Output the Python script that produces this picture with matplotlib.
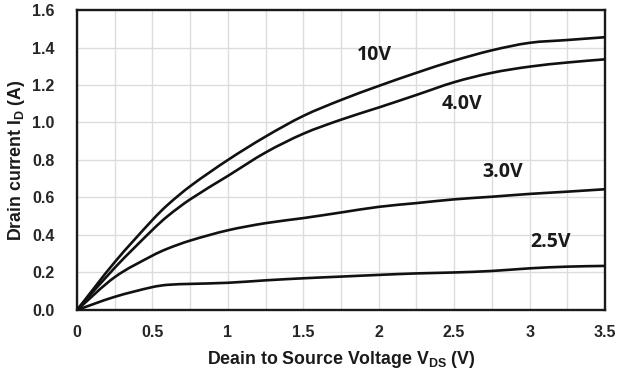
import numpy as np
import matplotlib.pyplot as plt
from matplotlib.path import Path
from matplotlib.patches import PathPatch
from matplotlib.ticker import MultipleLocator

# drain voltage points (V)
vds = [0, 0.25, 0.5, 0.6, 0.75, 1.0, 1.25, 1.5, 1.75, 2.0, 2.25, 2.5, 2.75, 3.0, 3.25, 3.5]

# drain current (A) for each gate voltage
id_10v = [0, 0.255, 0.48, 0.56, 0.66, 0.80, 0.925, 1.035, 1.12, 1.195, 1.265, 1.33, 1.385, 1.425, 1.44, 1.455]
id_4v = [0, 0.225, 0.427, 0.5, 0.59, 0.715, 0.84, 0.94, 1.015, 1.08, 1.147, 1.215, 1.265, 1.298, 1.32, 1.337]
id_3v = [0, 0.175, 0.29, 0.327, 0.37, 0.425, 0.463, 0.49, 0.52, 0.55, 0.57, 0.59, 0.604, 0.619, 0.631, 0.644]
id_25v = [0, 0.07, 0.122, 0.134, 0.139, 0.145, 0.158, 0.169, 0.178, 0.187, 0.195, 0.2, 0.208, 0.222, 0.231, 0.235]

curve_labels = ['10V', '4.0V', '3.0V', '2.5V']
label_pos = [(1.97, 1.36), (2.55, 1.10), (2.82, 0.735), (3.14, 0.365)]


def smooth_path(x, y):
    """Bezier path through the points (cubic hermite in x), like a smoothed spreadsheet line"""
    x = np.asarray(x, float)
    y = np.asarray(y, float)
    n = len(x)
    m = np.zeros(n)  # slope at each point
    m[0] = (y[1] - y[0]) / (x[1] - x[0])
    m[-1] = (y[-1] - y[-2]) / (x[-1] - x[-2])
    m[1:-1] = (y[2:] - y[:-2]) / (x[2:] - x[:-2])
    verts = [(x[0], y[0])]
    codes = [Path.MOVETO]
    for i in range(n - 1):
        h = x[i + 1] - x[i]
        verts += [(x[i] + h / 3, y[i] + m[i] * h / 3),
                  (x[i + 1] - h / 3, y[i + 1] - m[i + 1] * h / 3),
                  (x[i + 1], y[i + 1])]
        codes += [Path.CURVE4] * 3
    return Path(verts, codes)


plt.rcParams['font.family'] = ['Liberation Sans', 'DejaVu Sans']

fig = plt.figure(figsize=(6.18, 3.78), dpi=100)
ax = fig.add_axes([0.1246, 0.18, 0.8544, 0.7935])

for curve in [id_10v, id_4v, id_3v, id_25v]:
    ax.add_patch(PathPatch(smooth_path(vds, curve), fill=False, edgecolor='#111111', lw=1.9,
                           capstyle='round', zorder=3))

for text, (x, y) in zip(curve_labels, label_pos):
    ax.text(x, y, text, ha='center', va='center', fontsize=14, fontweight='bold',
            family=['Open Sans', 'DejaVu Sans'], color='#1a1a1a')

ax.set_xlim(0, 3.5)
ax.set_ylim(0, 1.6)
ax.set_xticks([0, 0.5, 1, 1.5, 2, 2.5, 3, 3.5])
ax.set_xticklabels(['0', '0.5', '1', '1.5', '2', '2.5', '3', '3.5'])
ax.xaxis.set_minor_locator(MultipleLocator(0.25))
ax.yaxis.set_major_locator(MultipleLocator(0.2))
ax.yaxis.set_major_formatter(plt.FormatStrFormatter('%.1f'))

ax.grid(True, which='both', axis='x', color='#dcdcdc', lw=1.0)
ax.grid(True, which='major', axis='y', color='#dcdcdc', lw=1.0)
ax.set_axisbelow(True)

ax.tick_params(which='both', length=0)
ax.tick_params(axis='x', pad=11, labelsize=11.5, labelcolor='#262626')
ax.tick_params(axis='y', pad=16, labelsize=11.5, labelcolor='#262626')
for lab in ax.get_xticklabels() + ax.get_yticklabels():
    lab.set_fontweight('bold')

for side in ['left', 'bottom', 'top', 'right']:
    ax.spines[side].set_color('#1a1a1a')
    ax.spines[side].set_linewidth(1.7)

ax.set_xlabel(r'Deain to Source Voltage V$_\mathregular{DS}$ (V)', fontsize=12.8, fontweight='bold',
              color='#1a1a1a', labelpad=6)
ax.set_ylabel(r'Drain current I$_\mathregular{D}$ (A)', fontsize=12.8, fontweight='bold',
              color='#1a1a1a', labelpad=4)

fig.savefig('out.png', dpi=100)
